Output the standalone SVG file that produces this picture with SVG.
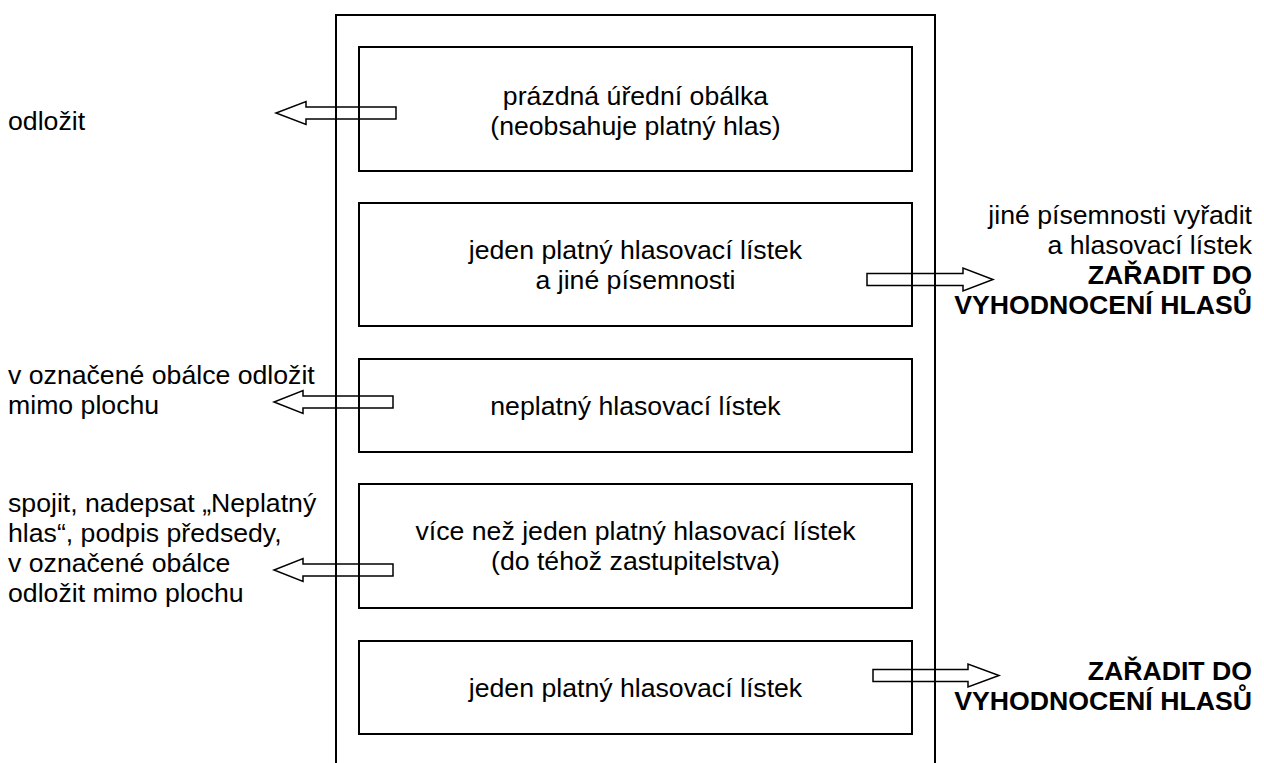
<svg xmlns="http://www.w3.org/2000/svg" width="1264" height="763" viewBox="0 0 1264 763">
<style>
  .frame{fill:none;stroke:#000;stroke-width:2}
  .box{fill:none;stroke:#000;stroke-width:2}
  .arr{fill:none;stroke:#000;stroke-width:1.5;stroke-linejoin:miter}
  text{font-family:"Liberation Sans",Arial,sans-serif;font-size:26.67px;fill:#000}
  .c{text-anchor:middle}
  .r{text-anchor:end}
  .b{font-weight:bold}
</style>
<rect width="1264" height="763" fill="#fff"/>
<path class="frame" d="M336 763 V15 H935 V763"/>
<g id="connectors">
  <polygon class="arr" points="396,107 306,107 306,101.5 276,113 306,124.5 306,119 396,119"/>
  <polygon class="arr" points="393,396 303,396 303,390.5 274,402 303,413.5 303,408 393,408"/>
  <polygon class="arr" points="393,564 303,564 303,558.5 274,570 303,581.5 303,576 393,576"/>
  <polygon class="arr" points="867,273.5 963,273.5 963,268 993,279.5 963,291 963,285.5 867,285.5"/>
  <polygon class="arr" points="873,669.5 968,669.5 968,664 999,675.5 968,687 968,681.5 873,681.5"/>
</g>
<g id="n1">
  <rect class="box" x="359" y="47" width="553" height="124"/>
  <text class="c" x="635.5" y="105">prázdná úřední obálka</text>
  <text class="c" x="635.5" y="135">(neobsahuje platný hlas)</text>
</g>
<g id="n2">
  <rect class="box" x="359" y="203" width="553" height="123"/>
  <text class="c" x="635.5" y="259">jeden platný hlasovací lístek</text>
  <text class="c" x="635.5" y="289">a jiné písemnosti</text>
</g>
<g id="n3">
  <rect class="box" x="359" y="359" width="553" height="93"/>
  <text class="c" x="635.5" y="415">neplatný hlasovací lístek</text>
</g>
<g id="n4">
  <rect class="box" x="359" y="484" width="553" height="124"/>
  <text class="c" x="635.5" y="540">více než jeden platný hlasovací lístek</text>
  <text class="c" x="635.5" y="570">(do téhož zastupitelstva)</text>
</g>
<g id="n5">
  <rect class="box" x="359" y="641" width="553" height="93"/>
  <text class="c" x="635.5" y="697">jeden platný hlasovací lístek</text>
</g>
<g id="l1"><text x="8" y="130">odložit</text></g>
<g id="l2">
  <text x="8" y="384">v označené obálce odložit</text>
  <text x="8" y="414">mimo plochu</text>
</g>
<g id="l3">
  <text x="8" y="512">spojit, nadepsat „Neplatný</text>
  <text x="8" y="542">hlas“, podpis předsedy,</text>
  <text x="8" y="572">v označené obálce</text>
  <text x="8" y="602">odložit mimo plochu</text>
</g>
<g id="r1">
  <text class="r" x="1252" y="224">jiné písemnosti vyřadit</text>
  <text class="r" x="1252" y="254">a hlasovací lístek</text>
  <text class="r b" x="1252" y="284">ZAŘADIT DO</text>
  <text class="r b" x="1252" y="314">VYHODNOCENÍ HLASŮ</text>
</g>
<g id="r2">
  <text class="r b" x="1252" y="680">ZAŘADIT DO</text>
  <text class="r b" x="1252" y="710">VYHODNOCENÍ HLASŮ</text>
</g>
</svg>
